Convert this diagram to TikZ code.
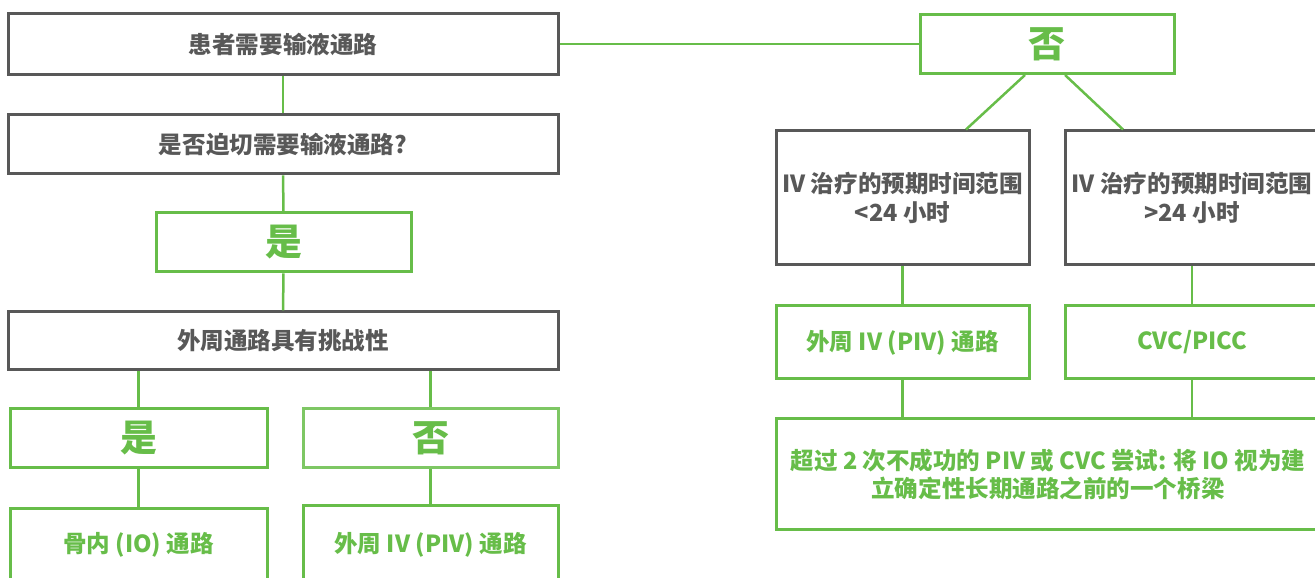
\documentclass[tikz,border=0pt]{standalone}
\usepackage{fontspec}
\setmainfont{Noto Sans CJK SC}

\definecolor{ivgreen}{RGB}{103,189,73}
\definecolor{ivgrey}{RGB}{88,88,88}

\tikzset{
  greybox/.style={draw=ivgrey, line width=.06cm, text=ivgrey, align=center,
    inner sep=0pt, font=\fontsize{13.4}{16}\selectfont\bfseries},
  greenbox/.style={greybox, draw=ivgreen, text=ivgreen},
  answer/.style={greenbox, font=\fontsize{21}{24}\selectfont\bfseries},
  link/.style={draw=ivgreen, line width=.05cm}
}

\begin{document}
\begin{tikzpicture}
    \useasboundingbox (0,0) rectangle (26.3,11.56);

    % left column
    \node[greybox, minimum width=11cm, minimum height=1.22cm] (need) at (5.66,10.68) {患者需要输液通路};
    \node[greybox, minimum width=11cm, minimum height=1.18cm] (urgent) at (5.66,8.67) {是否迫切需要输液通路?};
    \node[answer, minimum width=5.1cm, minimum height=1.18cm] (yes) at (5.67,6.71) {是};
    \node[greybox, minimum width=11cm, minimum height=1.16cm] (hard) at (5.66,4.74) {外周通路具有挑战性};
    \node[answer, minimum width=5.14cm, minimum height=1.18cm] (hardyes) at (2.77,2.79) {是};
    \node[answer, draw=ivgreen!85!white, minimum width=5.1cm, minimum height=1.18cm] (hardno) at (8.61,2.79) {否};
    \node[greenbox, minimum width=5.14cm, minimum height=1.46cm] (io) at (2.77,0.66) {骨内 (IO) 通路};
    \node[greenbox, minimum width=5.1cm, minimum height=1.56cm] (piv) at (8.61,0.66) {外周 IV (PIV) 通路};

    \draw[link] (need) -- (urgent);
    \draw[link] (urgent) -- (yes);
    \draw[link] (yes) -- (hard);
    \draw[link] (hard.south -| hardyes) -- (hardyes);
    \draw[link] (hard.south -| hardno) -- (hardno);
    \draw[link] (hardyes) -- (io);
    \draw[link] (hardno) -- (piv);

    % right column
    \node[answer, minimum width=5.08cm, minimum height=1.18cm] (no) at (20.94,10.68) {否};
    \node[greybox, minimum width=5.06cm, minimum height=2.68cm] (short) at (18.05,7.60)
      {IV 治疗的预期时间范围\\<24 小时};
    \node[greybox, minimum width=5.06cm, minimum height=2.68cm] (long) at (23.84,7.60)
      {IV 治疗的预期时间范围\\>24 小时};
    \node[greenbox, minimum width=5.06cm, minimum height=1.46cm] (piv2) at (18.05,4.71) {外周 IV (PIV) 通路};
    \node[greenbox, minimum width=5.06cm, minimum height=1.46cm] (cvc) at (23.84,4.71) {CVC/PICC};
    \node[greenbox, minimum width=10.88cm, minimum height=2.22cm] (bridge) at (20.96,2.07)
      {超过 2 次不成功的 PIV 或 CVC 尝试: 将 IO 视为建\\立确定性长期通路之前的一个桥梁};

    \draw[link] (need) -- (no);
    \draw[link] ([xshift=-.44cm]no.south) -- ([xshift=1.27cm]short.north);
    \draw[link] ([xshift=.36cm]no.south) -- ([xshift=-1.38cm]long.north);
    \draw[link] (short) -- (piv2);
    \draw[link] (long) -- (cvc);
    \draw[link] (piv2.south) -- (piv2.south |- bridge.north);
    \draw[link] (cvc.south) -- (cvc.south |- bridge.north);
\end{tikzpicture}
\end{document}
